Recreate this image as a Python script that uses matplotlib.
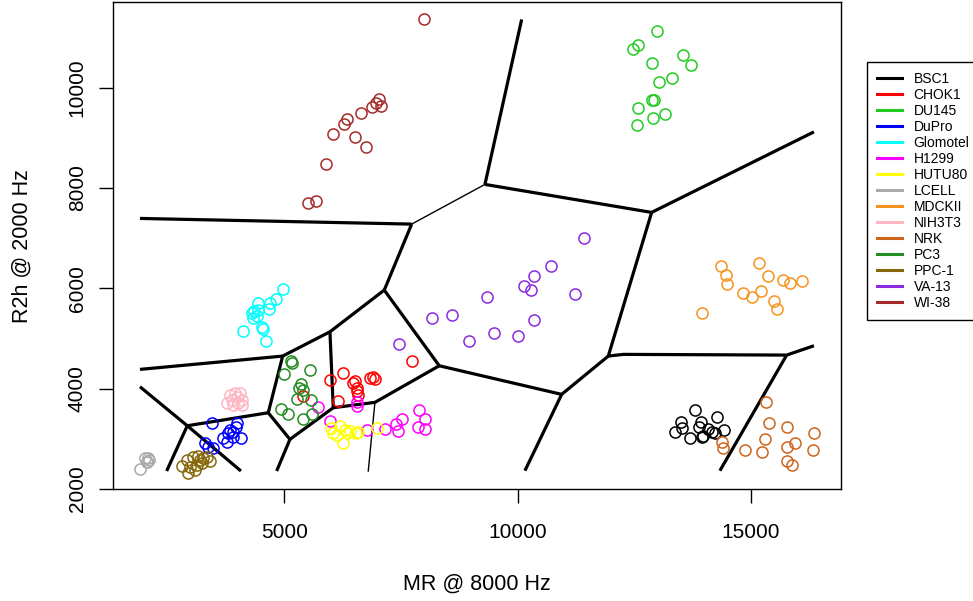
import matplotlib
matplotlib.use("Agg")
import matplotlib.pyplot as plt
from matplotlib.lines import Line2D

plt.rcParams['font.family'] = ['Liberation Sans', 'DejaVu Sans']

# cell lines and their colours
lines = ['BSC1', 'CHOK1', 'DU145', 'DuPro', 'Glomotel', 'H1299', 'HUTU80', 'LCELL',
         'MDCKII', 'NIH3T3', 'NRK', 'PC3', 'PPC-1', 'VA-13', 'WI-38']
colors = ['#000000', '#FF0000', '#22CC22', '#0000FF', '#00FFFF', '#FF00FF', '#FFFF00', '#AAAAAA',
          '#F7941D', '#FFB6C1', '#CD661D', '#228B22', '#86680A', '#8A2BE2', '#A52A2A']

# (MR @ 8000 Hz, R2h @ 2000 Hz) per sample
bsc1 = [(13799, 3568), (13499, 3341), (13928, 3341), (14277, 3440), (13527, 3209), (13370, 3129),
        (13885, 3229), (14071, 3195), (14427, 3175), (13692, 3022), (13943, 3030), (13970, 3062),
        (14227, 3110), (14157, 3141)]
chok1 = [(7742, 4550), (6263, 4317), (5985, 4171), (6514, 4151), (6478, 4106), (6563, 4006),
         (6585, 3872), (6567, 3952), (6835, 4205), (6906, 4225), (6942, 4185), (6156, 3759),
         (5393, 3859)]
du145 = [(12984, 11117), (12571, 10839), (12477, 10771), (13536, 10639), (13714, 10446),
         (12871, 10492), (13313, 10193), (13021, 10107), (12871, 9755), (12920, 9755),
         (12584, 9590), (13150, 9464), (12906, 9396), (12550, 9251)]
dupro = [(3443, 3309), (3979, 3309), (3835, 3175), (3906, 3141), (3799, 3110), (4065, 3010),
         (3692, 3010), (3765, 2942), (3906, 3042), (3300, 2910), (3371, 2831), (3478, 2811),
         (3964, 3235)]
glomotel = [(4965, 5990), (4815, 5779), (4693, 5699), (4671, 5580), (4435, 5699), (4442, 5566),
            (4300, 5500), (4335, 5400), (4408, 5446), (4527, 5233), (4549, 5193), (4108, 5153),
            (4607, 4948), (4350, 5546)]
h1299 = [(6563, 3739), (6563, 3653), (5715, 3627), (5978, 3361), (6777, 3175), (7157, 3195),
         (7392, 3295), (7527, 3388), (7442, 3161), (7892, 3574), (8014, 3388), (7870, 3229),
         (8020, 3189)]
hutu80 = [(6000, 3209), (6193, 3255), (6049, 3110), (6122, 3076), (6300, 3175), (6349, 3110),
          (6250, 2910), (6535, 3122), (6585, 3141), (6979, 3209), (6407, 3155)]
lcell = [(2085, 2611), (2051, 2544), (2100, 2578), (2014, 2618), (1907, 2398), (2057, 2538)]
mdckii = [(14356, 6442), (15164, 6496), (14470, 6263), (14478, 6084), (15370, 6249),
          (15678, 6163), (15835, 6097), (16085, 6149), (14834, 5910), (15014, 5831),
          (15213, 5950), (15492, 5745), (15556, 5580), (13943, 5500)]
nih3t3 = [(3765, 3707), (3872, 3773), (3979, 3839), (4050, 3906), (4086, 3773), (3906, 3673),
          (4013, 3707), (3835, 3872), (3942, 3906), (4086, 3673)]
nrk = [(15320, 3739), (15391, 3309), (15777, 3241), (16349, 3122), (15305, 2990), (15777, 2843),
       (15942, 2922), (16334, 2777), (14877, 2777), (15228, 2737), (14371, 2930), (14392, 2811),
       (15764, 2558), (15871, 2478)]
pc3 = [(5136, 4556), (5170, 4516), (4993, 4291), (5550, 4370), (5350, 4092), (5320, 4006),
       (5406, 3972), (5278, 3793), (5571, 3773), (4922, 3588), (5085, 3488), (5586, 3488),
       (5406, 3400)]
ppc1 = [(2908, 2578), (3049, 2631), (3156, 2657), (3263, 2612), (3407, 2564), (2978, 2444),
        (3122, 2478), (3229, 2512), (3085, 2378), (2942, 2325), (3193, 2578), (3336, 2631),
        (2807, 2458)]
va13 = [(11427, 7000), (10707, 6448), (10349, 6243), (10135, 6044), (10285, 5964), (11228, 5884),
        (9349, 5819), (8586, 5466), (8157, 5400), (10349, 5373), (9492, 5102), (10013, 5054),
        (8957, 4954), (7463, 4888)]
wi38 = [(7992, 11357), (7035, 9763), (6964, 9695), (7071, 9629), (6872, 9615), (6636, 9496),
        (6336, 9370), (6285, 9265), (6042, 9072), (6507, 9006), (6749, 8819), (5886, 8468),
        (5672, 7737), (5507, 7703)]
samples = [bsc1, chok1, du145, dupro, glomotel, h1299, hutu80, lcell,
           mdckii, nih3t3, nrk, pc3, ppc1, va13, wi38]

# classifier decision boundary: junction points and edges between them
j0 = (7729, 7279)
j1 = (9299, 8070)
j2 = (12871, 7512)
j3 = (11942, 4649)
j3b = (12263, 4683)
j4 = (15764, 4669)
j5 = (10943, 3886)
j6 = (8320, 4456)
j7 = (7142, 5964)
j8 = (5978, 5133)
j9 = (4965, 4649)
j10 = (4656, 3520)
j11 = (2921, 3261)
j12 = (5121, 2990)
j13 = (6049, 3620)
j14 = (6942, 3727)
thick_edges = [
    [(1907, 7392), j0],
    [j0, j7],
    [j1, (10086, 11357)],
    [j1, j2],
    [j2, (16349, 9117)],
    [j2, j3, j3b, j4, (16349, 4855)],
    [j4, (14334, 2365)],
    [j3, j5, (10156, 2365)],
    [j5, j6, j7, j8, j9, (1907, 4384)],
    [j9, j10, j11, (1907, 4038)],
    [j11, (4071, 2359)],
    [j11, (2479, 2359)],
    [j10, j12, (4836, 2359)],
    [j12, j13, j8],
    [j13, j14, j6],
]
thin_edges = [
    [j0, j1],
    [j14, (6799, 2359)],
]

fig = plt.figure(figsize=(9.73, 6.01), dpi=100)
ax = fig.add_axes([0.1164, 0.1859, 0.7482, 0.8108])

for pts, col in zip(samples, colors):
    xs = [p[0] for p in pts]
    ys = [p[1] for p in pts]
    ax.plot(xs, ys, 'o', mfc='none', mec=col, ms=8, mew=1.1, zorder=3)

for edge in thick_edges:
    ax.plot([p[0] for p in edge], [p[1] for p in edge], color='black', lw=2.3,
            solid_capstyle='butt', zorder=2)
for edge in thin_edges:
    ax.plot([p[0] for p in edge], [p[1] for p in edge], color='black', lw=1.0, zorder=2)

ax.set_xlim(1335, 16934)
ax.set_ylim(1995, 11705)
ax.set_xticks([5000, 10000, 15000])
ax.set_yticks([2000, 4000, 6000, 8000, 10000])
ax.tick_params(axis='both', labelsize=15, length=10, width=1, direction='out')
ax.tick_params(axis='x', pad=14)
ax.tick_params(axis='y', pad=9)
for lab in ax.get_yticklabels():
    lab.set_rotation(90)
    lab.set_va('center')
for sp in ax.spines.values():
    sp.set_linewidth(1)

ax.set_xlabel('MR @ 8000 Hz', fontsize=15.5, labelpad=23)
ax.set_ylabel('R2h @ 2000 Hz', fontsize=15.5, labelpad=25)

handles = [Line2D([], [], color=c, lw=2.2) for c in colors]
fig.legend(handles, lines, loc='upper left', bbox_to_anchor=(0.891, 0.897),
           fontsize=10, frameon=True, fancybox=False, edgecolor='black',
           framealpha=1, borderpad=0.75, handlelength=1.8, handletextpad=0.8,
           labelspacing=0.14, borderaxespad=0)

fig.savefig('out.png', dpi=100)
